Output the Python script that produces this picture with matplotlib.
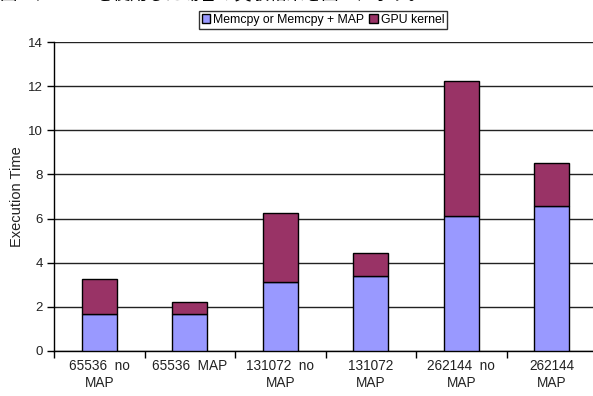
import matplotlib
matplotlib.use("Agg")
import matplotlib.pyplot as plt
import numpy as np

categories = ["65536  no\nMAP", "65536  MAP", "131072  no\nMAP", "131072\nMAP", "262144  no\nMAP", "262144\nMAP"]
memcpy = [1.65, 1.65, 3.10, 3.40, 6.13, 6.57]
kernel = [1.59, 0.55, 3.14, 1.05, 6.13, 1.95]
series_names = ["Memcpy or Memcpy + MAP", "GPU kernel"]
yticks = [0, 2, 4, 6, 8, 10, 12, 14]

plt.rcParams['font.family'] = ['Liberation Sans', 'Noto Sans CJK JP', 'DejaVu Sans']

W, H = 593, 396
fig = plt.figure(figsize=(W/100, H/100), dpi=100)
ax = fig.add_axes([54/W, (H-350.7)/H, (597-54)/W, (350.7-42.3)/H])

x = np.arange(len(categories))
bw = 0.39
b1 = ax.bar(x, memcpy, bw, color="#9999FF", edgecolor="black", linewidth=1.0, zorder=3, label=series_names[0])
b2 = ax.bar(x, kernel, bw, bottom=memcpy, color="#993366", edgecolor="black", linewidth=1.0, zorder=3, label=series_names[1])

ax.set_xlim(-0.5, len(categories) - 0.5)
ax.set_ylim(0, 14)
ax.set_yticks(yticks)
ax.set_yticklabels([str(v) for v in yticks], fontsize=9.5, color="#222222")
ax.yaxis.grid(True, color="#222222", linewidth=1.0, zorder=0)
ax.set_axisbelow(True)

ax.set_xticks(np.arange(len(categories) + 1) - 0.5)
ax.set_xticklabels([])
ax.set_xticks(x, minor=True)
ax.set_xticklabels(categories, minor=True, fontsize=9.8, linespacing=1.25, color="#222222")
ax.tick_params(axis='x', which='minor', length=0, pad=6)
ax.tick_params(axis='x', which='major', length=5, width=1, direction='out')
ax.tick_params(axis='y', length=5, width=1, direction='out', pad=3)

for s in ["top", "right"]:
    ax.spines[s].set_visible(False)
for s in ["left", "bottom"]:
    ax.spines[s].set_linewidth(1.0)
    ax.spines[s].set_color("black")

ax.set_ylabel("Execution Time", fontsize=10.5, labelpad=3, color="#222222")

leg = fig.legend(handles=[b1, b2], labels=series_names, loc="upper center",
                 bbox_to_anchor=(323/W, 1 - 11/H), ncol=2, fontsize=8.8,
                 frameon=True, fancybox=False, edgecolor="black",
                 handlelength=0.7, handleheight=0.7, handletextpad=0.25,
                 columnspacing=0.4, borderpad=0.25, borderaxespad=0)
leg.get_frame().set_linewidth(1.0)

fig.text(0.0, 1 + 1/H, "図 8 に MAP を使用した場合の実験結果を図 9 に示す。", fontsize=12.5,
         va="baseline", ha="left", family=['Noto Sans CJK JP', 'DejaVu Sans'])

fig.savefig("out.png", dpi=100)
